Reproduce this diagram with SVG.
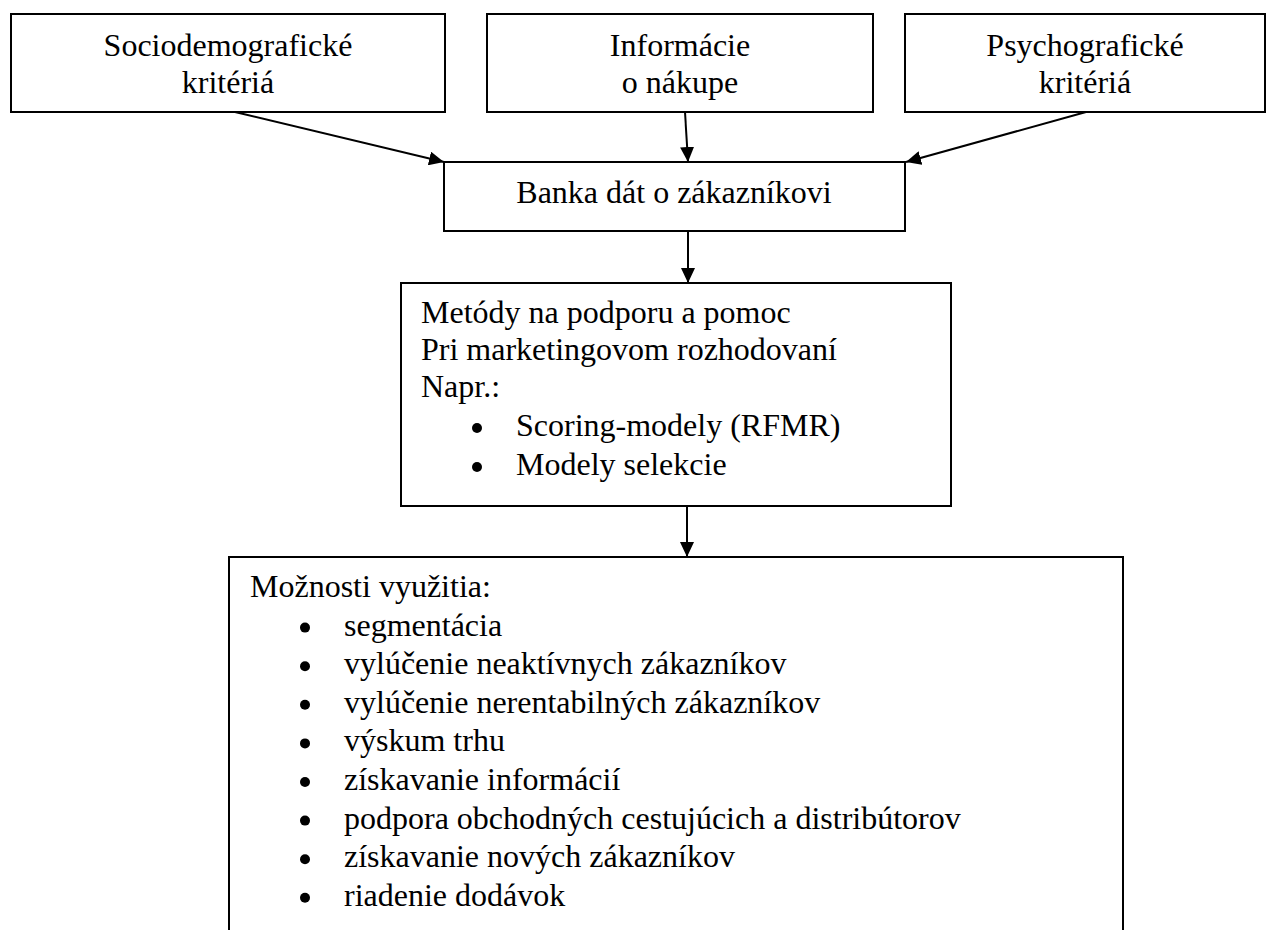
<svg xmlns="http://www.w3.org/2000/svg" width="1272" height="930" viewBox="0 0 1272 930">
  <style>
    .box { fill: #ffffff; stroke: #000000; stroke-width: 2; }
    .t { font-family: "Liberation Serif", "Times New Roman", serif; font-size: 32px; fill: #000000; }
    .c { text-anchor: middle; }
    .conn { stroke: #000000; stroke-width: 2; fill: none; marker-end: url(#arrow); }
    .dot { fill: #000000; }
  </style>
  <defs>
    <marker id="arrow" markerUnits="userSpaceOnUse" markerWidth="16" markerHeight="14" refX="15" refY="7" orient="auto">
      <path d="M0,0 L15,7 L0,14 z" fill="#000000"/>
    </marker>
  </defs>
  <rect width="1272" height="930" fill="#ffffff"/>

  <g id="connectors">
    <line class="conn" x1="235" y1="112" x2="444" y2="162"/>
    <line class="conn" x1="685" y1="112" x2="688" y2="162"/>
    <line class="conn" x1="1086" y1="112" x2="906" y2="162"/>
    <line class="conn" x1="688" y1="231" x2="688" y2="283"/>
    <line class="conn" x1="687" y1="506" x2="687" y2="557"/>
  </g>

  <g id="node-sociodemograficke">
    <rect class="box" x="11" y="14" width="434" height="98"/>
    <text class="t c" x="228" y="56">Sociodemografické</text>
    <text class="t c" x="228" y="93">kritériá</text>
  </g>

  <g id="node-informacie">
    <rect class="box" x="487" y="14" width="386" height="98"/>
    <text class="t c" x="680" y="56">Informácie</text>
    <text class="t c" x="680" y="93">o nákupe</text>
  </g>

  <g id="node-psychograficke">
    <rect class="box" x="905" y="14" width="360" height="98"/>
    <text class="t c" x="1085" y="56">Psychografické</text>
    <text class="t c" x="1085" y="93">kritériá</text>
  </g>

  <g id="node-banka">
    <rect class="box" x="444" y="162" width="461" height="69"/>
    <text class="t c" x="674" y="203">Banka dát o zákazníkovi</text>
  </g>

  <g id="node-metody">
    <rect class="box" x="401" y="283" width="550" height="223"/>
    <text class="t" x="421" y="323">Metódy na podporu a pomoc</text>
    <text class="t" x="421" y="360">Pri marketingovom rozhodovaní</text>
    <text class="t" x="421" y="397">Napr.:</text>
    <circle class="dot" cx="477" cy="428" r="5"/>
    <text class="t" x="516" y="436">Scoring-modely (RFMR)</text>
    <circle class="dot" cx="477" cy="467" r="5"/>
    <text class="t" x="516" y="475">Modely selekcie</text>
  </g>

  <g id="node-moznosti">
    <rect class="box" x="229" y="557" width="894" height="390"/>
    <text class="t" x="250" y="597">Možnosti využitia:</text>
    <circle class="dot" cx="305" cy="627.6" r="5"/>
    <text class="t" x="344" y="635.6">segmentácia</text>
    <circle class="dot" cx="305" cy="666.2" r="5"/>
    <text class="t" x="344" y="674.2">vylúčenie neaktívnych zákazníkov</text>
    <circle class="dot" cx="305" cy="704.8" r="5"/>
    <text class="t" x="344" y="712.8">vylúčenie nerentabilných zákazníkov</text>
    <circle class="dot" cx="305" cy="743.4" r="5"/>
    <text class="t" x="344" y="751.4">výskum trhu</text>
    <circle class="dot" cx="305" cy="782" r="5"/>
    <text class="t" x="344" y="790">získavanie informácií</text>
    <circle class="dot" cx="305" cy="820.6" r="5"/>
    <text class="t" x="344" y="828.6">podpora obchodných cestujúcich a distribútorov</text>
    <circle class="dot" cx="305" cy="859.2" r="5"/>
    <text class="t" x="344" y="867.2">získavanie nových zákazníkov</text>
    <circle class="dot" cx="305" cy="897.8" r="5"/>
    <text class="t" x="344" y="905.8">riadenie dodávok</text>
  </g>
</svg>
